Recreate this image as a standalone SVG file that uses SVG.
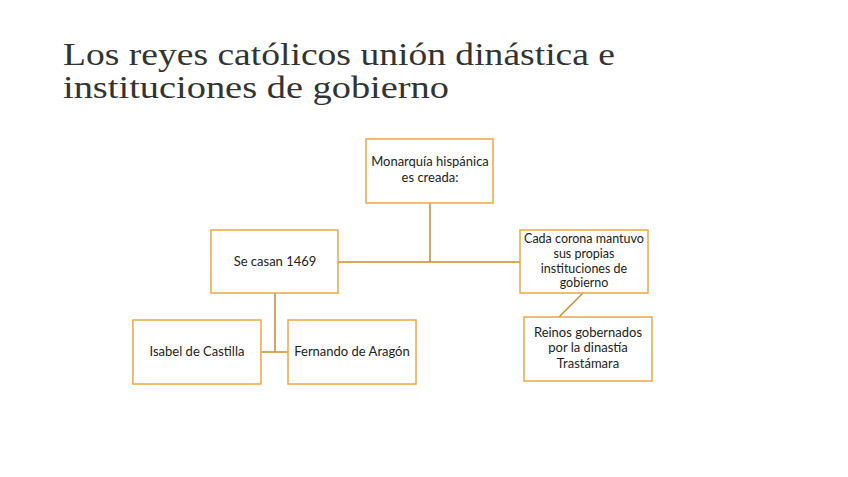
<svg xmlns="http://www.w3.org/2000/svg" width="848" height="477" viewBox="0 0 848 477">
<style>
.box{fill:#fff;stroke:#EBA745;stroke-width:1.5}
.lbl{font-family:Lato,"Open Sans",sans-serif;font-size:13px;fill:#222;text-anchor:middle}
.sm{font-size:12.5px}
.title{font-family:"Liberation Serif","DejaVu Serif",serif;font-size:32px;fill:#333}
.con{stroke:#CE8B2E;stroke-width:1.5;fill:none}
</style>
<rect width="848" height="477" fill="#fff"/>
<g id="title"><text class="title" x="63" y="65" textLength="552" lengthAdjust="spacingAndGlyphs">Los reyes católicos unión dinástica e</text><text class="title" x="63" y="98" textLength="386" lengthAdjust="spacingAndGlyphs">instituciones de gobierno</text></g>
<g id="connectors">
<path class="con" d="M430 203V262M338 262H520"/>
<path class="con" d="M275 293V352M261 352H288"/>
<path class="con" d="M583 293L559 317"/>
</g>
<g id="n1"><rect class="box" x="366" y="139" width="127" height="64"/><text class="lbl" x="430" y="166">Monarquía hispánica</text><text class="lbl" x="430" y="182">es creada:</text></g>
<g id="n2"><rect class="box" x="211" y="230" width="127" height="63"/><text class="lbl" x="275" y="266">Se casan 1469</text></g>
<g id="n3"><rect class="box" x="520" y="230" width="128" height="63"/><text class="lbl sm" x="584" y="243">Cada corona mantuvo</text><text class="lbl sm" x="584" y="258">sus propias</text><text class="lbl sm" x="584" y="272.5">instituciones de</text><text class="lbl sm" x="584" y="287">gobierno</text></g>
<g id="n4"><rect class="box" x="133" y="320" width="128" height="64"/><text class="lbl" x="197" y="356">Isabel de Castilla</text></g>
<g id="n5"><rect class="box" x="288" y="320" width="128" height="64"/><text class="lbl" x="352" y="356">Fernando de Aragón</text></g>
<g id="n6"><rect class="box" x="524" y="317" width="128" height="64"/><text class="lbl" x="588" y="337">Reinos gobernados</text><text class="lbl" x="588" y="352">por la dinastía</text><text class="lbl" x="588" y="368">Trastámara</text></g>
</svg>
